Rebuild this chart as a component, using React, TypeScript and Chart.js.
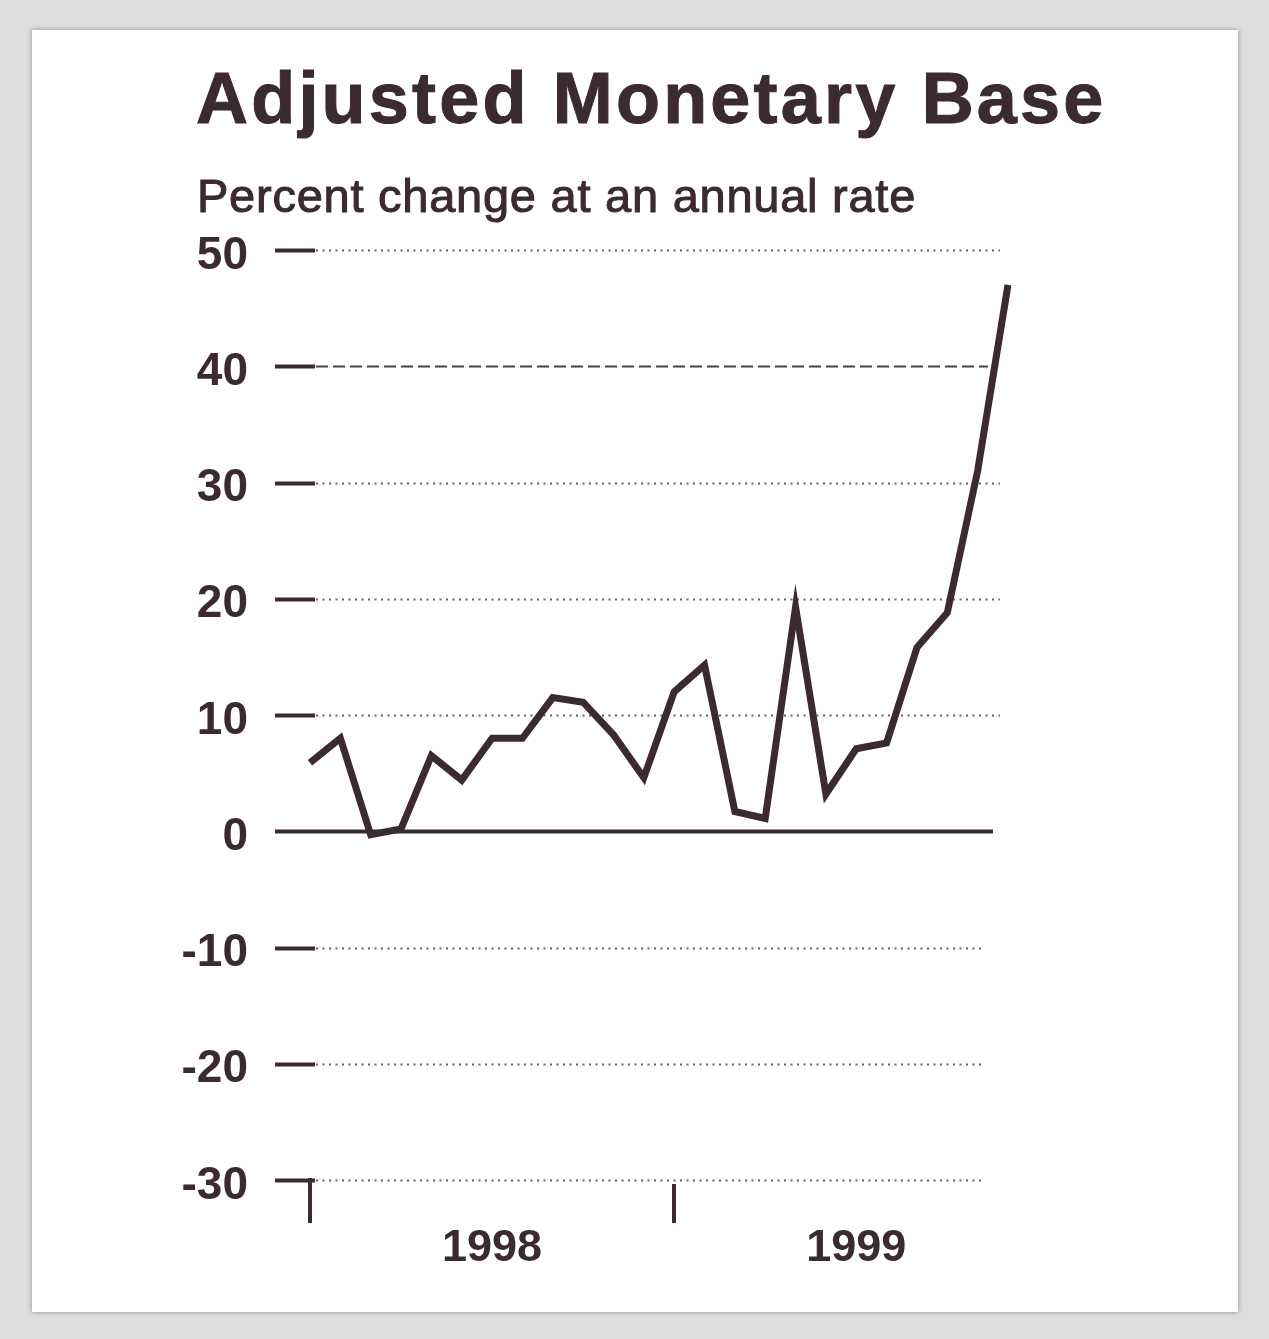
import React, { useEffect, useRef } from 'react';
import { Chart, registerables } from 'chart.js';

Chart.register(...registerables);

// ---- data ----
const MONTHS = [
  'Jan 1998', 'Feb 1998', 'Mar 1998', 'Apr 1998', 'May 1998', 'Jun 1998',
  'Jul 1998', 'Aug 1998', 'Sep 1998', 'Oct 1998', 'Nov 1998', 'Dec 1998',
  'Jan 1999', 'Feb 1999', 'Mar 1999', 'Apr 1999', 'May 1999', 'Jun 1999',
  'Jul 1999', 'Aug 1999', 'Sep 1999', 'Oct 1999', 'Nov 1999', 'Dec 1999',
];
const BASE_GROWTH = [
  5.9, 8.0, -0.3, 0.2, 6.5, 4.4, 8.0, 8.0, 11.5, 11.1, 8.3, 4.6,
  12.0, 14.3, 1.7, 1.1, 19.3, 3.2, 7.1, 7.6, 15.8, 18.8, 31.0, 47.0,
];
const Y_TICKS = [50, 40, 30, 20, 10, 0, -10, -20, -30];
const YEAR_LABELS: Record<string, string> = { 'Jul 1998': '1998', 'Jul 1999': '1999' };
const YEAR_START_MONTHS = ['Jan 1998', 'Jan 1999'];

const TITLE = 'Adjusted Monetary Base';
const SUBTITLE = 'Percent change at an annual rate';

const INK = '#3b2a2e';
const DOT = '#6a5c5f';
const FONT = '"Liberation Sans", Arial, Helvetica, sans-serif';

const gridPlugin = {
  id: 'fedGrid',
  beforeDatasetsDraw(chart: any) {
    const { ctx, chartArea, scales } = chart;
    const x = scales.x;
    const y = scales.y;
    const left = chartArea.left;
    const right = chartArea.right;
    ctx.save();
    ctx.lineCap = 'butt';
    y.ticks.forEach((t: any) => {
      const py = Math.round(y.getPixelForValue(t.value)) + 0.5;
      ctx.setLineDash([]);
      ctx.strokeStyle = INK;
      ctx.lineWidth = 4;
      ctx.beginPath();
      ctx.moveTo(left - 35, py);
      ctx.lineTo(left + 5, py);
      ctx.stroke();
      if (t.value === 0) {
        ctx.lineWidth = 4;
        ctx.beginPath();
        ctx.moveTo(left + 5, py);
        ctx.lineTo(right - 15, py);
        ctx.stroke();
      } else if (t.value === 40) {
        ctx.strokeStyle = '#4e4043';
        ctx.lineWidth = 2;
        ctx.setLineDash([12, 5]);
        ctx.beginPath();
        ctx.moveTo(left + 6, py);
        ctx.lineTo(right - 20, py);
        ctx.stroke();
      } else {
        ctx.strokeStyle = DOT;
        ctx.lineWidth = 2;
        ctx.setLineDash([2, 4.5]);
        ctx.beginPath();
        ctx.moveTo(left + 6, py);
        ctx.lineTo(right - (t.value < 0 ? 24 : 8), py);
        ctx.stroke();
      }
    });
    ctx.setLineDash([]);
    ctx.strokeStyle = INK;
    ctx.lineWidth = 4;
    const bottom = chartArea.bottom;
    YEAR_START_MONTHS.forEach((m, i) => {
      const idx = MONTHS.indexOf(m);
      const px = Math.round(x.getPixelForValue(idx));
      ctx.beginPath();
      ctx.moveTo(px, bottom - (i === 0 ? 2 : -4));
      ctx.lineTo(px, bottom + 43);
      ctx.stroke();
    });
    ctx.restore();
  },
};

export default function App() {
  const ref = useRef<HTMLCanvasElement | null>(null);

  useEffect(() => {
    if (!ref.current) return;
    const chart = new Chart(ref.current, {
      type: 'line',
      data: {
        labels: MONTHS,
        datasets: [
          {
            label: 'Adjusted monetary base',
            data: BASE_GROWTH,
            borderColor: INK,
            borderWidth: 7,
            pointRadius: 0,
            tension: 0,
            fill: false,
            borderCapStyle: 'butt',
            borderJoinStyle: 'miter',
          },
        ],
      },
      options: {
        animation: false,
        responsive: false,
        devicePixelRatio: 1,
        layout: { padding: { top: 250, right: 261, bottom: 0, left: 0 } },
        plugins: {
          legend: { display: false },
          title: { display: false },
          tooltip: { enabled: false },
        },
        scales: {
          x: {
            type: 'category',
            offset: false,
            grid: { display: false, drawTicks: false },
            border: { display: false },
            afterFit: (s: any) => {
              s.height = 1339 - 1180;
            },
            ticks: {
              autoSkip: false,
              maxRotation: 0,
              padding: 42,
              color: INK,
              font: { family: FONT, size: 45, weight: 'bold' },
              callback: (_v: any, i: number) => YEAR_LABELS[MONTHS[i]] || '',
            },
          },
          y: {
            type: 'linear',
            min: -30,
            max: 50,
            grid: { display: false, drawTicks: false },
            border: { display: false },
            afterFit: (s: any) => {
              s.width = 310;
            },
            afterBuildTicks: (s: any) => {
              s.ticks = Y_TICKS.map((v) => ({ value: v }));
            },
            ticks: {
              padding: 62,
              labelOffset: 6,
              color: INK,
              font: { family: FONT, size: 46, weight: 'bold' },
              callback: (v: any) => String(v),
            },
          },
        },
      },
      plugins: [gridPlugin],
    });
    return () => chart.destroy();
  }, []);

  return (
    <div
      style={{
        position: 'absolute',
        left: 0,
        top: 0,
        width: 1269,
        height: 1339,
        background: '#dedddb',
        overflow: 'hidden',
      }}
    >
      <div
        style={{
          position: 'absolute',
          left: 32,
          top: 30,
          width: 1206,
          height: 1282,
          background: '#ffffff',
          boxShadow: '0 0 5px rgba(0,0,0,0.35)',
        }}
      />
      <canvas
        ref={ref}
        width={1269}
        height={1339}
        style={{ position: 'absolute', left: 0, top: 0, width: 1269, height: 1339, display: 'block' }}
      />
      <div
        style={{
          position: 'absolute',
          left: 196,
          top: 62,
          fontFamily: FONT,
          fontWeight: 'bold',
          fontSize: 72,
          lineHeight: '72px',
          letterSpacing: '3.2px',
          color: INK,
          WebkitTextStroke: '1px ' + INK,
          whiteSpace: 'nowrap',
        }}
      >
        {TITLE}
      </div>
      <div
        style={{
          position: 'absolute',
          left: 197,
          top: 172,
          fontFamily: FONT,
          fontSize: 47,
          lineHeight: '47px',
          letterSpacing: '0.75px',
          color: INK,
          WebkitTextStroke: '1px ' + INK,
          whiteSpace: 'nowrap',
        }}
      >
        {SUBTITLE}
      </div>
    </div>
  );
}
